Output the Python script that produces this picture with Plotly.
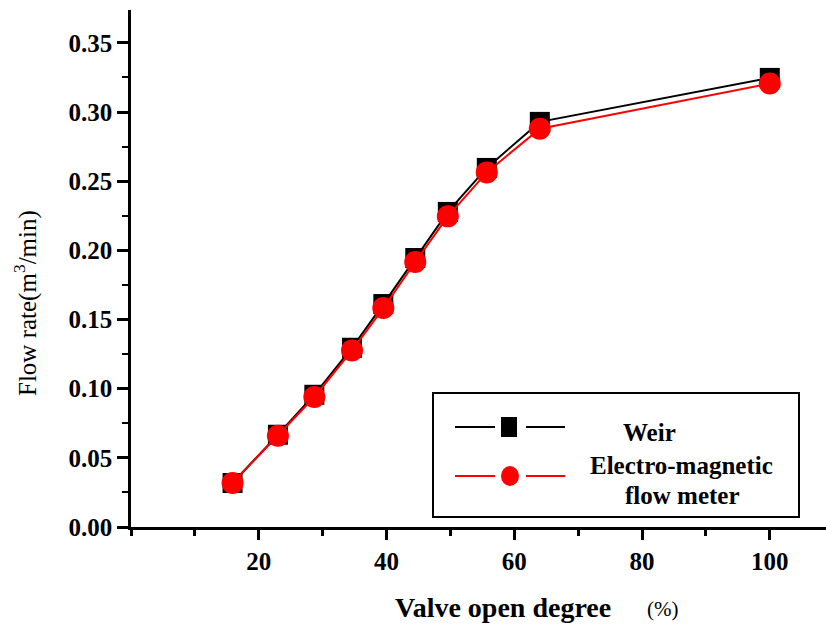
import plotly.graph_objects as go

# ---- data ----
valve_open = [15.9, 23.0, 28.7, 34.6, 39.5, 44.5, 49.6, 55.7, 64.0, 100.0]
weir_flow = [0.0318, 0.0667, 0.0956, 0.1296, 0.1612, 0.1945, 0.2278, 0.2596, 0.2929, 0.3247]
em_flow = [0.0318, 0.0660, 0.0940, 0.1277, 0.1583, 0.1916, 0.2246, 0.2564, 0.2880, 0.3206]
x_ticks = [20, 40, 60, 80, 100]
x_ticktext = ["20", "40", "60", "80", "100"]
y_ticks = [0.0, 0.05, 0.10, 0.15, 0.20, 0.25, 0.30, 0.35]
y_ticktext = ["0.00", "0.05", "0.10", "0.15", "0.20", "0.25", "0.30", "0.35"]

W, H = 826, 630
L, R, T, B = 131, 0, 10, 103
X_RANGE = [0, 108.8]
Y_RANGE = [0, 0.3738]
SERIF = "Liberation Serif"


def px(xp):
    return (xp - L) / (W - L - R)


def py(yp):
    return (H - B - yp) / (H - T - B)


fig = go.Figure()
fig.add_trace(go.Scatter(
    x=valve_open, y=weir_flow, mode="lines+markers", name="Weir",
    line=dict(color="black", width=2),
    marker=dict(symbol="square", size=20, color="black"),
    showlegend=False,
))
fig.add_trace(go.Scatter(
    x=valve_open, y=em_flow, mode="lines+markers", name="Electro-magnetic flow meter",
    line=dict(color="#ff0000", width=2),
    marker=dict(symbol="circle", size=22, color="#ff0000"),
    showlegend=False,
))

axis_common = dict(showgrid=False, zeroline=False, linecolor="black", linewidth=2.5,
                   tickcolor="black", tickwidth=2.5)
tick_font = dict(family=SERIF, size=25, color="black", weight="bold")

fig.update_layout(
    width=W, height=H,
    margin=dict(l=L, r=R, t=T, b=B, pad=0),
    plot_bgcolor="white", paper_bgcolor="white",
    xaxis=dict(range=X_RANGE, showline=True, ticks="outside", ticklen=10,
               tickvals=x_ticks, ticktext=x_ticktext, tickfont=tick_font,
               minor=dict(ticks="outside", ticklen=6, dtick=10, tick0=0,
                          tickcolor="black", tickwidth=2.5),
               **axis_common),
    yaxis=dict(range=Y_RANGE, showline=True, ticks="outside", ticklen=11,
               tickvals=y_ticks, ticktext=y_ticktext, tickfont=tick_font,
               minor=dict(ticks="outside", ticklen=6, dtick=0.025, tick0=0,
                          tickcolor="black", tickwidth=2),
               **axis_common),
    xaxis2=dict(range=X_RANGE, overlaying="x", side="top", anchor="y",
                showline=True, ticks="inside", ticklen=10,
                tickvals=x_ticks, showticklabels=False,
                minor=dict(ticks="inside", ticklen=5, dtick=10, tick0=0,
                           tickcolor="black", tickwidth=2),
                **axis_common),
    yaxis2=dict(range=Y_RANGE, overlaying="y", side="right", anchor="x",
                showline=False, ticks="inside", ticklen=3,
                tickvals=y_ticks, showticklabels=False,
                showgrid=False, zeroline=False, tickcolor="black", tickwidth=2.5),
)

# axis titles
fig.add_annotation(text="Flow rate(m<sup>3</sup>/min)", xref="paper", yref="paper",
                   x=px(25), y=py(303), xanchor="center", yanchor="middle",
                   textangle=-90, showarrow=False,
                   font=dict(family=SERIF, size=25, color="black"))
fig.add_annotation(text="Valve open degree", xref="paper", yref="paper",
                   x=px(503), y=py(607), xanchor="center", yanchor="middle",
                   showarrow=False,
                   font=dict(family=SERIF, size=28, color="black", weight="bold"))
fig.add_annotation(text="(%)", xref="paper", yref="paper",
                   x=px(662), y=py(609), xanchor="center", yanchor="middle",
                   showarrow=False,
                   font=dict(family=SERIF, size=21, color="black"))

# manual legend
fig.add_shape(type="rect", xref="paper", yref="paper",
              x0=px(433), x1=px(799), y0=py(517), y1=py(393),
              line=dict(color="black", width=2), fillcolor="white", layer="above")
for y_l, col in [(427, "black"), (476, "#ff0000")]:
    for a, b in [(455, 495), (526, 565)]:
        fig.add_shape(type="line", xref="paper", yref="paper",
                      x0=px(a), x1=px(b), y0=py(y_l), y1=py(y_l),
                      line=dict(color=col, width=2), layer="above")
fig.add_shape(type="rect", xref="paper", yref="paper",
              x0=px(501), x1=px(517), y0=py(437), y1=py(417),
              line=dict(width=0), fillcolor="black", layer="above")
fig.add_shape(type="circle", xref="paper", yref="paper",
              x0=px(501), x1=px(519), y0=py(486), y1=py(466),
              line=dict(width=0), fillcolor="#ff0000", layer="above")
legend_font = dict(family=SERIF, size=25, color="black", weight="bold")
for txt, cx, cy in [("Weir", 649, 432), ("Electro-magnetic", 681, 465), ("flow meter", 682, 495)]:
    fig.add_annotation(text=txt, xref="paper", yref="paper", x=px(cx), y=py(cy),
                       xanchor="center", yanchor="middle",
                       showarrow=False, font=legend_font)

fig.write_html("out.html")
